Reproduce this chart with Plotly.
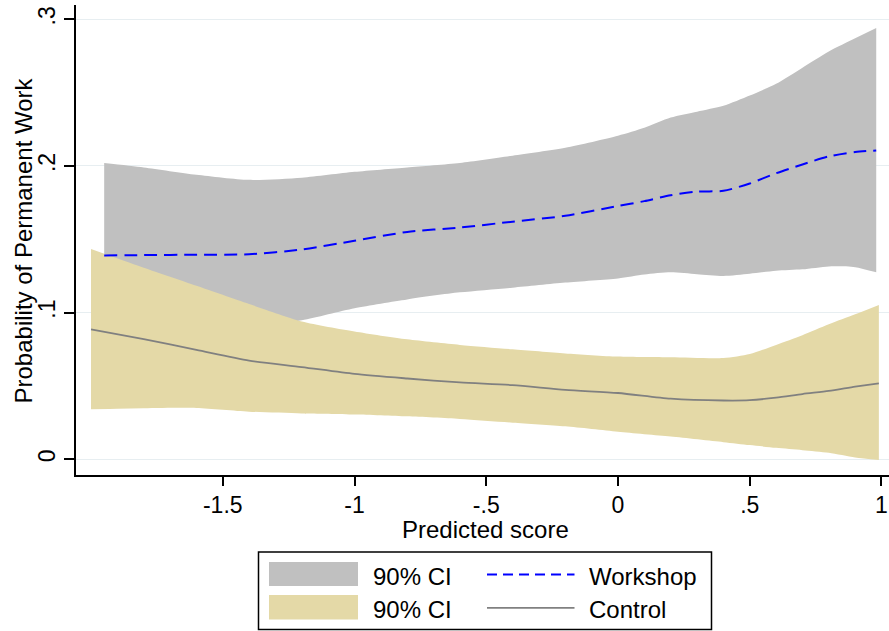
import plotly.graph_objects as go

# Predicted score grid and estimates, workshop group
ws_x = [-1.95, -1.8, -1.6, -1.4, -1.2, -1.0, -0.8, -0.6, -0.4, -0.2, 0.0,
        0.1, 0.2, 0.3, 0.4, 0.5, 0.6, 0.7, 0.8, 0.9, 0.98]
ws_mean = [0.139, 0.1392, 0.1395, 0.1398, 0.143, 0.149, 0.155, 0.158, 0.162, 0.166, 0.1727,
           0.176, 0.180, 0.1825, 0.183, 0.188, 0.195, 0.201, 0.2065, 0.2095, 0.2105]
ws_lo = [0.077, 0.080, 0.085, 0.090, 0.0948, 0.103, 0.109, 0.1138, 0.117, 0.1205, 0.1233,
         0.126, 0.1275, 0.1262, 0.125, 0.1265, 0.1285, 0.1295, 0.1315, 0.131, 0.1275]
ws_hi = [0.202, 0.199, 0.194, 0.1905, 0.192, 0.196, 0.199, 0.202, 0.207, 0.2124, 0.2206,
         0.226, 0.233, 0.237, 0.241, 0.248, 0.256, 0.267, 0.278, 0.287, 0.294]

# Control group
ctl_x = [-2.0, -1.8, -1.6, -1.4, -1.2, -1.0, -0.8, -0.6, -0.4, -0.2, 0.0,
         0.2, 0.4, 0.5, 0.6, 0.7, 0.8, 0.9, 0.99]
ctl_mean = [0.0886, 0.0819, 0.0746, 0.0673, 0.0629, 0.0582, 0.0551, 0.0524, 0.0506, 0.0473, 0.0452,
            0.0413, 0.0401, 0.0403, 0.042, 0.0445, 0.0466, 0.0495, 0.0518]
ctl_lo = [0.0341, 0.0348, 0.035, 0.0325, 0.0313, 0.0306, 0.0293, 0.0275, 0.025, 0.0225, 0.0188,
          0.0155, 0.0117, 0.0097, 0.0078, 0.0062, 0.0044, 0.0012, -0.0005]
ctl_hi = [0.1434, 0.1306, 0.1183, 0.1059, 0.094, 0.0872, 0.0818, 0.078, 0.075, 0.0722, 0.070,
          0.0695, 0.069, 0.0718, 0.078, 0.0846, 0.092, 0.0988, 0.1052]

x_ticks = [-1.5, -1, -0.5, 0, 0.5, 1]
x_ticktext = ["-1.5", "-1", "-.5", "0", ".5", "1"]
y_ticks = [0, 0.1, 0.2, 0.3]
y_ticktext = ["0", ".1", ".2", ".3"]

GRAY_CI = "#c0c0c0"
SAND_CI = "#e4d9a7"
WS_LINE = "#0000ff"
CTL_LINE = "#808080"
FONT = "Arial, Liberation Sans, sans-serif"
SMOOTH = 0.7

W, H = 889, 631
ML, MR, MT, MB = 76, 0, 5, 156
PW, PH = W - ML - MR, H - MT - MB


def px(xpix):
    return (xpix - ML) / PW


def py(ypix):
    return (H - MB - ypix) / PH


fig = go.Figure()


def add_band(x, lo, hi, color):
    fig.add_trace(go.Scatter(
        x=x, y=lo, mode="lines", line=dict(width=0, shape="spline", smoothing=SMOOTH),
        hoverinfo="skip", showlegend=False))
    fig.add_trace(go.Scatter(
        x=x, y=hi, mode="lines", fill="tonexty", fillcolor=color,
        line=dict(width=0, shape="spline", smoothing=SMOOTH),
        hoverinfo="skip", showlegend=False))


# Confidence bands (workshop first, control drawn over it)
add_band(ws_x, ws_lo, ws_hi, GRAY_CI)
add_band(ctl_x, ctl_lo, ctl_hi, SAND_CI)

# Point estimates
fig.add_trace(go.Scatter(
    x=ws_x, y=ws_mean, mode="lines",
    line=dict(color=WS_LINE, width=2, dash="13px,7px", shape="spline", smoothing=SMOOTH),
    name="Workshop", showlegend=False))
fig.add_trace(go.Scatter(
    x=ctl_x, y=ctl_mean, mode="lines",
    line=dict(color=CTL_LINE, width=1.8, shape="spline", smoothing=SMOOTH),
    name="Control", showlegend=False))

fig.update_xaxes(
    range=[-2.057, 1.0285], tickvals=x_ticks, ticktext=x_ticktext,
    ticks="outside", ticklen=9, tickwidth=1.5, tickcolor="black",
    showline=True, linecolor="black", linewidth=1.5,
    showgrid=False, zeroline=False,
    tickfont=dict(family=FONT, size=23, color="black"))
fig.update_yaxes(
    range=[-0.0107, 0.3097], tickvals=y_ticks, ticktext=y_ticktext,
    tickangle=-90, ticks="outside", ticklen=10, tickwidth=1.5, tickcolor="black",
    showline=True, linecolor="black", linewidth=1.5,
    showgrid=True, gridcolor="#e7eef1", gridwidth=1.3, zeroline=False,
    tickfont=dict(family=FONT, size=23, color="black"))

annotations = [
    dict(text="Predicted score", x=px(485.5), y=py(529), xref="paper", yref="paper",
         xanchor="center", yanchor="middle", showarrow=False,
         font=dict(family=FONT, size=24, color="black")),
    dict(text="Probability of Permanent Work", x=px(22.5), y=py(241), xref="paper", yref="paper",
         xanchor="center", yanchor="middle", textangle=-90, showarrow=False,
         font=dict(family=FONT, size=24, color="black")),
]

# Legend box: fill swatches on the left, line samples on the right
shapes = [
    dict(type="rect", xref="paper", yref="paper",
         x0=px(258.5), x1=px(711.5), y0=py(552), y1=py(629.5),
         line=dict(color="black", width=1.5), fillcolor="white"),
    dict(type="rect", xref="paper", yref="paper",
         x0=px(269), x1=px(358), y0=py(562), y1=py(586),
         line=dict(width=0), fillcolor=GRAY_CI),
    dict(type="rect", xref="paper", yref="paper",
         x0=px(269), x1=px(358), y0=py(595), y1=py(619.5),
         line=dict(width=0), fillcolor=SAND_CI),
    dict(type="line", xref="paper", yref="paper",
         x0=px(487), x1=px(574.5), y0=py(574.5), y1=py(574.5),
         line=dict(color=WS_LINE, width=2, dash="10px,6px")),
    dict(type="line", xref="paper", yref="paper",
         x0=px(487), x1=px(574.5), y0=py(607.8), y1=py(607.8),
         line=dict(color=CTL_LINE, width=1.8)),
]

legend_rows = [("90% CI", "Workshop", 576.5), ("90% CI", "Control", 609.5)]
for ci_label, series_label, ycen in legend_rows:
    for label, xl in ((ci_label, 370.5), (series_label, 587)):
        annotations.append(dict(
            text=label, x=px(xl), y=py(ycen), xref="paper", yref="paper",
            xanchor="left", yanchor="middle", showarrow=False,
            font=dict(family=FONT, size=24, color="black")))

fig.update_layout(
    width=W, height=H, autosize=False,
    margin=dict(l=ML, r=MR, t=MT, b=MB, pad=0),
    paper_bgcolor="white", plot_bgcolor="white",
    showlegend=False, annotations=annotations, shapes=shapes)

fig.write_html("out.html")
